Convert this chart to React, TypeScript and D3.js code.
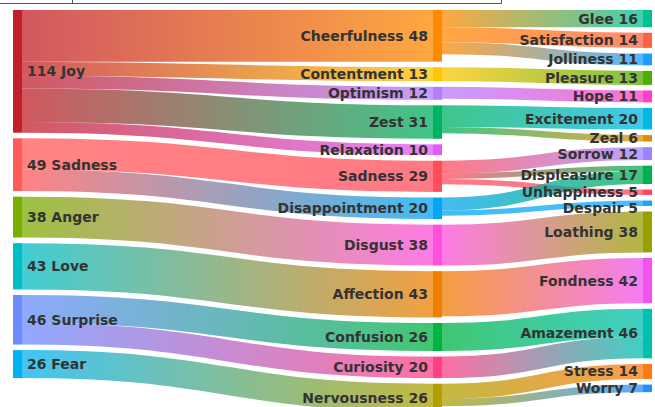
import React, { useEffect, useRef } from "react";
import * as d3 from "d3";

// nodes per column, top to bottom
const leftNodes = ["Joy", "Sadness", "Anger", "Love", "Surprise", "Fear"];
const middleNodes = [
  "Cheerfulness", "Contentment", "Optimism", "Zest", "Relaxation", "Sadness ",
  "Disappointment", "Disgust", "Affection", "Confusion", "Curiosity", "Nervousness",
];
const rightNodes = [
  "Glee", "Satisfaction", "Jolliness", "Pleasure", "Hope", "Excitement", "Zeal",
  "Sorrow", "Displeasure", "Unhappiness", "Despair", "Loathing", "Fondness",
  "Amazement", "Stress", "Worry",
];

// column slots (the middle column sits in slot 2 of 0..3)
const columnDepth = [0, 2, 3];

const nodeColors: Record<string, string> = {
  Joy: "#c21f2b", Sadness: "#ff5a5a", Anger: "#7aae00", Love: "#00bdc6",
  Surprise: "#6a8cff", Fear: "#00b2f2",
  Cheerfulness: "#ff8a00", Contentment: "#ffc600", Optimism: "#b47cff",
  Zest: "#00b262", Relaxation: "#df5cf6", "Sadness ": "#ff4d5b",
  Disappointment: "#00a6f2", Disgust: "#ff4fdc", Affection: "#ef7f00",
  Confusion: "#00b444", Curiosity: "#ff3f86", Nervousness: "#b0a000",
  Glee: "#00c092", Satisfaction: "#ff6242", Jolliness: "#1a9fff",
  Pleasure: "#4eae00", Hope: "#ff3fc2", Excitement: "#00b8e4", Zeal: "#de8e00",
  Sorrow: "#a082ff", Displeasure: "#00b050", Unhappiness: "#ff4262",
  Despair: "#10a8f8", Loathing: "#98a000", Fondness: "#f152f0",
  Amazement: "#00c0b0", Stress: "#ff7a12", Worry: "#2290ff",
};

// flows: [source, target, value]
const flows: [string, string, number][] = [
  ["Joy", "Cheerfulness", 48],
  ["Joy", "Contentment", 13],
  ["Joy", "Optimism", 12],
  ["Joy", "Zest", 31],
  ["Joy", "Relaxation", 10],
  ["Sadness", "Sadness ", 29],
  ["Sadness", "Disappointment", 20],
  ["Anger", "Disgust", 38],
  ["Love", "Affection", 43],
  ["Surprise", "Confusion", 26],
  ["Surprise", "Curiosity", 20],
  ["Fear", "Nervousness", 26],
  ["Cheerfulness", "Glee", 16],
  ["Cheerfulness", "Satisfaction", 14],
  ["Cheerfulness", "Jolliness", 11],
  ["Contentment", "Pleasure", 13],
  ["Optimism", "Hope", 11],
  ["Zest", "Excitement", 20],
  ["Zest", "Zeal", 6],
  ["Sadness ", "Sorrow", 12],
  ["Sadness ", "Displeasure", 5],
  ["Sadness ", "Unhappiness", 5],
  ["Disappointment", "Displeasure", 12],
  ["Disappointment", "Despair", 5],
  ["Disgust", "Loathing", 38],
  ["Affection", "Fondness", 42],
  ["Confusion", "Amazement", 26],
  ["Curiosity", "Amazement", 20],
  ["Nervousness", "Stress", 14],
  ["Nervousness", "Worry", 7],
];

const W = 655;
const H = 407;

type N = {
  id: string; col: number; value: number;
  x0: number; x1: number; y0: number; y1: number; ly: number;
  outs: L[]; ins: L[];
};
type L = { source: N; target: N; value: number; width: number; sy: number; ty: number; i: number };

const App = () => {
  const ref = useRef<SVGSVGElement>(null);

  useEffect(() => {
    const svg = d3.select(ref.current);
    svg.selectAll("*").remove();

    const nodeWidth = 9;
    const pad = 5.6;
    const top = 10;
    const bottom = 411.7;
    const labelGap = 16;
    const columns = [leftNodes, middleNodes, rightNodes];

    const x = d3.scaleLinear().domain([0, 3]).range([13, 643]);

    const nodes = new Map<string, N>();
    columns.forEach((col, ci) =>
      col.forEach((id) =>
        nodes.set(id, {
          id, col: ci, value: 0,
          x0: x(columnDepth[ci]), x1: x(columnDepth[ci]) + nodeWidth,
          y0: 0, y1: 0, ly: 0, outs: [], ins: [],
        })
      )
    );
    const links: L[] = flows.map(([s, t, v], i) => {
      const l = { source: nodes.get(s)!, target: nodes.get(t)!, value: v, width: 0, sy: 0, ty: 0, i };
      l.source.outs.push(l);
      l.target.ins.push(l);
      return l;
    });
    nodes.forEach((n) => {
      n.value = Math.max(d3.sum(n.ins, (l) => l.value), d3.sum(n.outs, (l) => l.value));
    });

    const ky = d3.min(columns, (col) =>
      (bottom - top - (col.length - 1) * pad) / d3.sum(col, (id) => nodes.get(id)!.value)
    )!;
    const yScale = d3.scaleLinear().domain([0, 1]).range([0, ky]);

    columns.forEach((col) => {
      let y = top;
      let prevLabel = -Infinity;
      col.forEach((id) => {
        const n = nodes.get(id)!;
        n.y0 = y;
        n.y1 = y + yScale(n.value);
        y = n.y1 + pad;
        // push labels down when they would collide
        n.ly = Math.max((n.y0 + n.y1) / 2, prevLabel + labelGap);
        prevLabel = n.ly;
      });
    });

    links.forEach((l) => (l.width = yScale(l.value)));
    nodes.forEach((n) => {
      let sy = n.y0;
      [...n.outs].sort((a, b) => a.target.y0 - b.target.y0).forEach((l) => {
        l.sy = sy + l.width / 2;
        sy += l.width;
      });
      let ty = n.y0;
      [...n.ins].sort((a, b) => a.source.y0 - b.source.y0).forEach((l) => {
        l.ty = ty + l.width / 2;
        ty += l.width;
      });
    });

    // top frame remnant
    const frame = svg.append("g").attr("stroke", "#555").attr("fill", "none");
    frame.append("path").attr("d", "M0,3.5H501.5V0");
    frame.append("path").attr("d", "M72.5,0V3.5");

    // gradients
    const defs = svg.append("defs");
    links.forEach((l) => {
      const g = defs
        .append("linearGradient")
        .attr("id", "grad" + l.i)
        .attr("gradientUnits", "userSpaceOnUse")
        .attr("x1", l.source.x1)
        .attr("x2", l.target.x0);
      g.append("stop").attr("offset", "0%").attr("stop-color", nodeColors[l.source.id]);
      g.append("stop").attr("offset", "100%").attr("stop-color", nodeColors[l.target.id]);
    });

    const linkPath = d3
      .linkHorizontal<L, [number, number]>()
      .source((d) => [d.source.x1, d.sy])
      .target((d) => [d.target.x0, d.ty]);

    svg
      .append("g")
      .attr("fill", "none")
      .attr("stroke-opacity", 0.75)
      .selectAll("path")
      .data(links)
      .enter()
      .append("path")
      .attr("d", (d) => linkPath(d))
      .attr("stroke", (d) => `url(#grad${d.i})`)
      .attr("stroke-width", (d) => Math.max(1, d.width));

    const allNodes = Array.from(nodes.values());

    svg
      .append("g")
      .selectAll("rect")
      .data(allNodes)
      .enter()
      .append("rect")
      .attr("x", (d) => d.x0)
      .attr("y", (d) => d.y0)
      .attr("width", (d) => d.x1 - d.x0)
      .attr("height", (d) => d.y1 - d.y0)
      .attr("fill", (d) => nodeColors[d.id]);

    svg
      .append("g")
      .attr("font-family", "'DejaVu Sans', sans-serif")
      .attr("font-weight", "bold")
      .attr("font-size", 14)
      .attr("fill", "#333")
      .selectAll("text")
      .data(allNodes)
      .enter()
      .append("text")
      .attr("x", (d) => (d.col === 0 ? d.x1 + 5 : d.x0 - 5))
      .attr("y", (d) => d.ly)
      .attr("dy", "0.35em")
      .attr("text-anchor", (d) => (d.col === 0 ? "start" : "end"))
      .text((d) => (d.col === 0 ? `${d.value} ${d.id.trim()}` : `${d.id.trim()} ${d.value}`));
  }, []);

  return (
    <svg
      ref={ref}
      width={W}
      height={H}
      style={{ position: "absolute", left: 0, top: 0, background: "#fff" }}
    ></svg>
  );
};

export default App;
